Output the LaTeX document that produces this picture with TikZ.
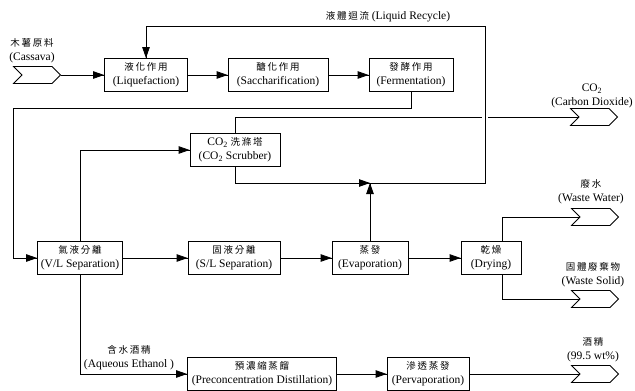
\documentclass[tikz,border=0pt]{standalone}
\usepackage{fontspec}
\setmainfont{Liberation Serif}
\newfontfamily\cjk[LetterSpace=18]{Noto Sans CJK TC}
\usepackage{tikz}
\usetikzlibrary{positioning, arrows.meta, shapes.symbols, decorations.markings}
\newcommand{\zh}[1]{{\cjk\fontsize{9.5}{14}\selectfont #1}}
\tikzstyle{Arrow} = [
%flow arrow with a filled head at the end:
line width=0.8pt,
decoration={
markings,
mark=at position 1 with {
\arrow{Triangle[length=11pt,width=7.5pt]}
}
},
postaction = {decorate}
]
\tikzstyle{Line} = [line width=0.8pt]

\begin{document}
\begin{tikzpicture}[x=1pt, y=-1pt,
			process/.style = {rectangle, draw, line width=0.8pt, align=center, minimum height=33pt, inner sep=1pt, font=\fontsize{11.5}{14}\selectfont},
			outlet/.style = {signal, draw, line width=0.8pt, signal to=east, signal from=west, minimum width=47pt, minimum height=17pt, inner sep=0pt},
			tag/.style = {align=center, inner sep=0pt, font=\fontsize{11.5}{14}\selectfont},
		]
		\useasboundingbox (0,0) rectangle (635,391);
		\node[outlet](cassava) at (37,75){};
		\node[tag](cassavatxt) at (32,51){\zh{木薯原料}\\(Cassava)};
		\node[process, minimum width=83pt](liq) at (146,75){\zh{液化作用}\\(Liquefaction)};
		\node[process, minimum width=100pt](sacch) at (278,75){\zh{醣化作用}\\(Saccharification)};
		\node[process, minimum width=84pt](ferm) at (411,75){\zh{發酵作用}\\(Fermentation)};
		\node[process, minimum width=90pt](scrub) at (235,150){CO\textsubscript{2} \zh{洗滌塔}\\(CO\textsubscript{2} Scrubber)};
		\node[process, minimum width=85pt](vl) at (80,258){\zh{氣液分離}\\(V/L Separation)};
		\node[process, minimum width=92pt](sl) at (234,258){\zh{固液分離}\\(S/L Separation)};
		\node[process, minimum width=76pt](evap) at (370,258){\zh{蒸發}\\(Evaporation)};
		\node[process, minimum width=60pt](dry) at (491,258){\zh{乾燥}\\(Drying)};
		\node[process, minimum width=149pt](pre) at (262,374){\zh{預濃縮蒸餾}\\(Preconcentration Distillation)};
		\node[process, minimum width=82pt](perv) at (428,374){\zh{滲透蒸發}\\(Pervaporation)};
		\node[outlet](co2) at (594,117){};
		\node[outlet](water) at (595,217){};
		\node[outlet](solid) at (595,299){};
		\node[outlet](ethanol) at (595,374){};
		\node[tag](co2txt) at (592,96){CO\textsubscript{2}\\(Carbon Dioxide)};
		\node[tag](watertxt) at (591,192){\zh{廢水}\\(Waste Water)};
		\node[tag](solidtxt) at (593,275){\zh{固體廢棄物}\\(Waste Solid)};
		\node[tag](ethanoltxt) at (593,350){\zh{酒精}\\(99.5 wt\%)};
		\node[tag](aqtxt) at (129,358){\zh{含水酒精}\\(Aqueous Ethanol )};
		\node[tag](recycletxt) at (388,17){\zh{液體迴流} (Liquid Recycle)};
		\coordinate(mix) at (370,183);
		\coordinate(loop) at (13,108);
		\coordinate(top) at (485,26);
		\coordinate(hopl) at (482,117);
		\coordinate(hopr) at (488,117);

		\draw[Arrow](cassava)--(liq);
		\draw[Arrow](liq)--(sacch);
		\draw[Arrow](sacch)--(ferm);
		\draw[Arrow](ferm.south)|-(loop)|-(vl.west);
		\draw[Arrow](vl.north)|-(scrub.west);
		\draw[Line](scrub.north)|-(hopl);
		\draw[Line](hopr)--(co2);
		\draw[Arrow](scrub.south)|-(mix);
		\draw[Arrow](evap.north)--(mix);
		\draw[Arrow](mix)-|(top)-|(liq.north);
		\draw[Arrow](vl)--(sl);
		\draw[Arrow](sl)--(evap);
		\draw[Arrow](evap)--(dry);
		\draw[Line]([xshift=11pt]dry.north)|-(water);
		\draw[Line]([xshift=11pt]dry.south)|-(solid);
		\draw[Arrow](vl.south)|-(pre.west);
		\draw[Arrow](pre)--(perv);
		\draw[Line](perv)--(ethanol);
	\end{tikzpicture}
\end{document}
